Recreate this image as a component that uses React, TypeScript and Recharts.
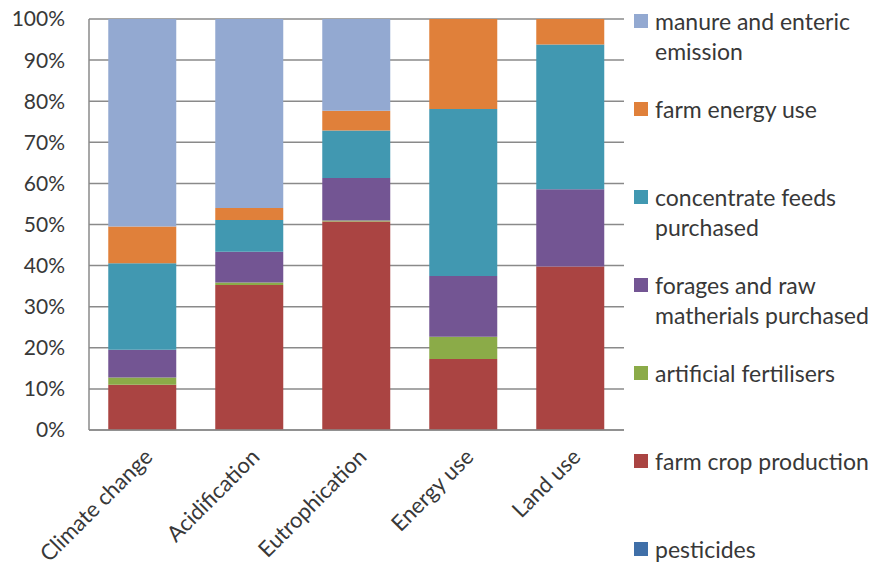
import React from "react";
import { BarChart, Bar, XAxis, YAxis, CartesianGrid, Legend } from "recharts";

const categories = ["Climate change", "Acidification", "Eutrophication", "Energy use", "Land use"];

// percentages per impact category, bottom of the stack first
const pesticides = [0, 0, 0, 0, 0];
const farmCrop = [11, 35.3, 50.7, 17.3, 39.8];
const fertilisers = [1.8, 0.6, 0.3, 5.4, 0];
const forages = [6.7, 7.5, 10.3, 14.8, 18.8];
const concentrate = [21.1, 7.7, 11.6, 40.6, 35.2];
const energyUse = [8.9, 2.9, 4.8, 21.9, 6.2];
const manure = [50.5, 46, 22.3, 0, 0];

const yTicks = [0, 10, 20, 30, 40, 50, 60, 70, 80, 90, 100];

const series = [
  { key: "pesticides", name: "pesticides", values: pesticides, color: "#3f6fa8" },
  { key: "farmCrop", name: "farm crop production", values: farmCrop, color: "#aa4442" },
  { key: "fertilisers", name: "artificial fertilisers", values: fertilisers, color: "#8bab48" },
  { key: "forages", name: "forages and raw\nmatherials purchased", values: forages, color: "#735593" },
  { key: "concentrate", name: "concentrate feeds\npurchased", values: concentrate, color: "#4198b1" },
  { key: "energyUse", name: "farm energy use", values: energyUse, color: "#e0803a" },
  { key: "manure", name: "manure and enteric\nemission", values: manure, color: "#93a9d1" },
];

const data = categories.map((name, i) => {
  const row: Record<string, string | number> = { name };
  series.forEach((s) => (row[s.key] = s.values[i]));
  return row;
});

const FONT = "Lato, 'Open Sans', sans-serif";

const XTick = (props: any) => {
  const { x, y, payload } = props;
  return (
    <g transform={`translate(${x + 5},${y + 14})`}>
      <text
        transform="rotate(-45)"
        textAnchor="end"
        fontSize={22}
        fontFamily={FONT}
        fill="#383838"
        dy={9}
      >
        {payload.value}
      </text>
    </g>
  );
};

// legend lists the stack top to bottom
const renderLegend = () => {
  const items = [...series].reverse();
  return (
    <div style={{ fontFamily: FONT, fontSize: 23, color: "#383838" }}>
      {items.map((item) => (
        <div key={item.key} style={{ height: 88, display: "flex", alignItems: "flex-start" }}>
          <span
            style={{
              width: 14,
              height: 14,
              background: item.color,
              marginTop: 8,
              marginRight: 7,
              flex: "none",
            }}
          />
          <span style={{ whiteSpace: "pre-line", lineHeight: "30px" }}>{item.name}</span>
        </div>
      ))}
    </div>
  );
};

export default function App() {
  return (
    <div style={{ position: "absolute", left: 0, top: 0, width: 875, height: 572, background: "#fff" }}>
      <BarChart
        width={875}
        height={572}
        data={data}
        margin={{ top: 19, right: 8, bottom: 0, left: 0 }}
        barCategoryGap="18%"
      >
        <CartesianGrid vertical={false} stroke="#8a8a8a" strokeWidth={1.5} />
        <XAxis
          dataKey="name"
          height={142}
          interval={0}
          tick={<XTick />}
          tickLine={false}
          axisLine={{ stroke: "#8a8a8a", strokeWidth: 1.5 }}
        />
        <YAxis
          width={89}
          domain={[0, 100]}
          ticks={yTicks}
          tickFormatter={(v: number) => `${v}%`}
          tickLine={false}
          tickSize={0}
          tickMargin={24}
          axisLine={{ stroke: "#8a8a8a", strokeWidth: 1.5 }}
          tick={{ fontSize: 21, fontFamily: FONT, fill: "#383838" }}
        />
        <Legend
          layout="vertical"
          align="right"
          verticalAlign="top"
          content={renderLegend}
          wrapperStyle={{ left: 634, top: 6, width: 243 }}
        />
        {series.map((s) => (
          <Bar
            key={s.key}
            dataKey={s.key}
            name={s.name}
            stackId="a"
            fill={s.color}
            isAnimationActive={false}
          />
        ))}
      </BarChart>
    </div>
  );
}
